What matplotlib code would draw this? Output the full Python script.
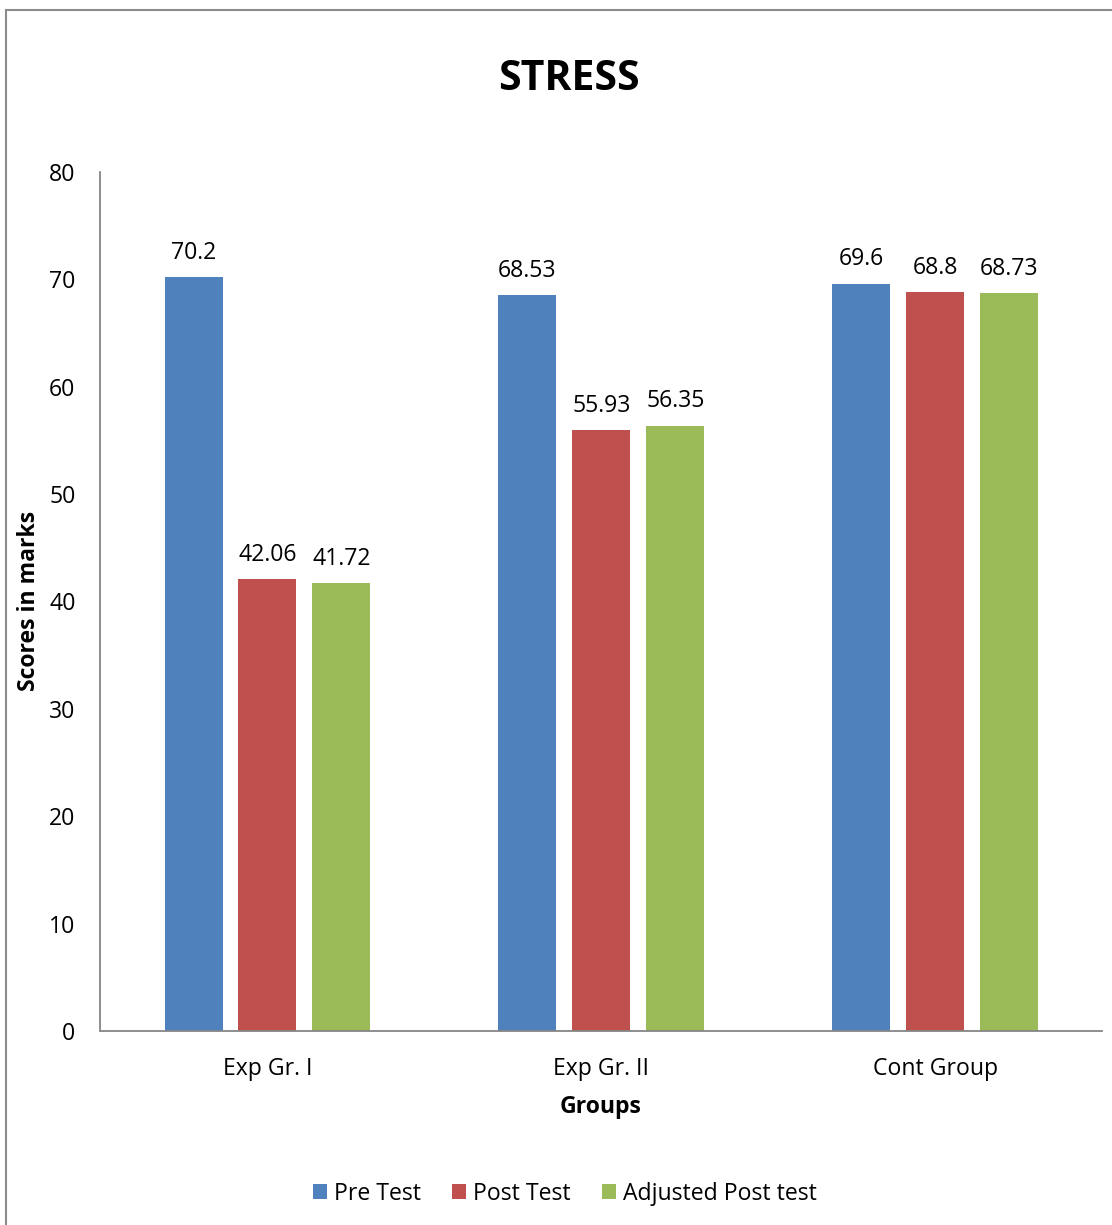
import matplotlib
matplotlib.use("Agg")
import matplotlib.pyplot as plt
from matplotlib.lines import Line2D
import numpy as np

plt.rcParams['font.family'] = ['Open Sans', 'DejaVu Sans']

# data
groups = ["Exp Gr. I", "Exp Gr. II", "Cont Group"]
series_names = ["Pre Test", "Post Test", "Adjusted Post test"]
pre_test = [70.2, 68.53, 69.6]
post_test = [42.06, 55.93, 68.8]
adjusted_post = [41.72, 56.35, 68.73]
value_labels = [["70.2", "68.53", "69.6"],
                ["42.06", "55.93", "68.8"],
                ["41.72", "56.35", "68.73"]]
yticks = [0, 10, 20, 30, 40, 50, 60, 70, 80]

colors = ["#4F81BD", "#C0504D", "#9BBB59"]
W, H = 1112, 1225
fs = 16.6

fig = plt.figure(figsize=(W / 100, H / 100), dpi=100)
ax = fig.add_axes([100.5 / W, 1 - 1031 / H, 1002 / W, (1031 - 172) / H])

x = np.arange(len(groups))
width = 58 / 334
step = 74 / 334
for i, (vals, name) in enumerate(zip([pre_test, post_test, adjusted_post], series_names)):
    pos = x + (i - 1) * step
    ax.bar(pos, vals, width=width, color=colors[i], label=name, zorder=2)
    for px, v, txt in zip(pos, vals, value_labels[i]):
        ax.annotate(txt, (px, v), xytext=(0, 9), textcoords="offset points",
                    ha="center", va="bottom", fontsize=fs, color="black")

ax.set_xlim(-0.5, 2.5)
ax.set_ylim(0, 80)
ax.set_yticks(yticks)
ax.set_xticks(x)
ax.set_xticklabels(groups)
ax.tick_params(axis="both", length=0, labelsize=fs)
ax.tick_params(axis="y", pad=18)
ax.tick_params(axis="x", pad=19)

for side in ["top", "right"]:
    ax.spines[side].set_visible(False)
for side in ["left", "bottom"]:
    ax.spines[side].set_color("#868686")
    ax.spines[side].set_linewidth(1.3)

fig.text(569 / W, 1 - 80 / H, "STRESS", ha="center", va="center",
         fontsize=29.5, fontweight="bold")
fig.text(601 / W, 1 - 1107 / H, "Groups", ha="center", va="center",
         fontsize=fs, fontweight="bold")
fig.text(29 / W, 1 - 601 / H, "Scores in marks", ha="center", va="center",
         rotation=90, fontsize=fs, fontweight="bold")

fig.legend(loc="center", bbox_to_anchor=(565 / W, 1 - 1194 / H), ncol=3,
           frameon=False, fontsize=fs, handlelength=0.62, handleheight=0.62,
           handletextpad=0.3, columnspacing=1.35)

# outer chart border (only left and top edges fall inside the image)
border = dict(color="#8c8c8c", linewidth=1.5, transform=fig.transFigure)
fig.add_artist(Line2D([6 / W, 6 / W], [0, 1 - 10 / H], **border))
fig.add_artist(Line2D([6 / W, 1], [1 - 10 / H, 1 - 10 / H], **border))

fig.savefig("out.png", dpi=100, facecolor="white")
